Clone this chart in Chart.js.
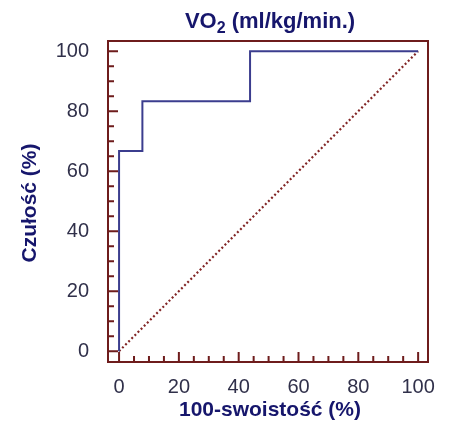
<!DOCTYPE html>
<html>
<head>
<meta charset="utf-8">
<script src="https://cdn.jsdelivr.net/npm/chart.js@4"></script>
<style>
body { margin: 0; background: #fff; }
</style>
</head>
<body>
<canvas id="roc" width="454" height="428"></canvas>
<script>
// ROC operating points: 100-specificity vs sensitivity (%)
const fpr = [0, 0, 7.8, 43.8, 100];
const sens = [0, 66.7, 83.3, 100, 100];
// chance diagonal
const diagX = [0, 100];
const diagY = [0, 100];
const xTicks = [0, 20, 40, 60, 80, 100];
const yTicks = [0, 20, 40, 60, 80, 100];
const minorStep = 5;

const navy = "#16166c";
const frameRed = "#6e1c1c";
const tickText = "#30304a";

// box round the plot with inward ticks on the left and bottom
const framePlugin = {
	id: "frame",
	afterDatasetsDraw(chart) {
		const { ctx, chartArea: a, scales } = chart;
		ctx.save();
		ctx.strokeStyle = frameRed;
		ctx.lineWidth = 2;
		ctx.strokeRect(a.left, a.top, a.right - a.left, a.bottom - a.top);
		ctx.beginPath();
		for (let v = 0; v <= 100; v += minorStep) {
			const len = xTicks.includes(v) ? 10 : 6;
			const px = scales.x.getPixelForValue(v);
			ctx.moveTo(px, a.bottom);
			ctx.lineTo(px, a.bottom - len);
			const ylen = yTicks.includes(v) ? 10 : 6;
			const py = scales.y.getPixelForValue(v);
			ctx.moveTo(a.left, py);
			ctx.lineTo(a.left + ylen, py);
		}
		ctx.stroke();
		ctx.restore();
	}
};

// chart title with subscript and the two axis titles
const titlesPlugin = {
	id: "titles",
	afterDraw(chart) {
		const { ctx } = chart;
		const cx = 270;
		ctx.save();
		ctx.fillStyle = navy;
		ctx.textBaseline = "alphabetic";
		const big = "bold 22px 'Liberation Sans', Arial, sans-serif";
		const small = "bold 16px 'Liberation Sans', Arial, sans-serif";
		ctx.font = big;
		const w1 = ctx.measureText("VO").width;
		const w3 = ctx.measureText(" (ml/kg/min.)").width;
		ctx.font = small;
		const w2 = ctx.measureText("2").width;
		let x = cx - (w1 + w2 + w3) / 2;
		const base = 28;
		ctx.textAlign = "left";
		ctx.font = big;
		ctx.fillText("VO", x, base);
		x += w1;
		ctx.font = small;
		ctx.fillText("2", x, base + 5);
		x += w2;
		ctx.font = big;
		ctx.fillText(" (ml/kg/min.)", x, base);

		ctx.font = "bold 21px 'Liberation Sans', Arial, sans-serif";
		ctx.textAlign = "center";
		ctx.textBaseline = "middle";
		ctx.fillText("100-swoistość (%)", cx, 410);

		ctx.translate(30, 203);
		ctx.rotate(-Math.PI / 2);
		ctx.fillText("Czułość (%)", 0, 0);
		ctx.restore();
	}
};

const tickFont = { family: "'Liberation Sans', Arial, sans-serif", size: 20 };

new Chart(document.getElementById("roc"), {
	type: "scatter",
	data: {
		datasets: [
			{
				data: fpr.map((v, i) => ({ x: v, y: sens[i] })),
				showLine: true,
				stepped: true,
				borderColor: "#3b3d8e",
				borderWidth: 2,
				pointRadius: 0
			},
			{
				data: diagX.map((v, i) => ({ x: v, y: diagY[i] })),
				showLine: true,
				borderColor: "#822626",
				borderWidth: 2.2,
				borderDash: [2, 2.4],
				pointRadius: 0
			}
		]
	},
	options: {
		responsive: false,
		animation: false,
		layout: { padding: { top: 41, right: 26, left: 0, bottom: 0 } },
		plugins: {
			legend: { display: false },
			tooltip: { enabled: false },
			title: { display: false }
		},
		scales: {
			x: {
				type: "linear",
				min: -3.7,
				max: 103.3,
				afterBuildTicks: (s) => { s.ticks = xTicks.map((v) => ({ value: v })); },
				afterFit: (s) => { s.height = 66; },
				ticks: { font: tickFont, color: tickText, padding: 5, maxRotation: 0 },
				grid: { display: false },
				border: { display: false }
			},
			y: {
				type: "linear",
				min: -3.6,
				max: 103.4,
				afterBuildTicks: (s) => { s.ticks = yTicks.map((v) => ({ value: v })); },
				afterFit: (s) => { s.width = 108; },
				ticks: { font: tickFont, color: tickText, padding: 11 },
				grid: { display: false },
				border: { display: false }
			}
		}
	},
	plugins: [framePlugin, titlesPlugin]
});
</script>
</body>
</html>
